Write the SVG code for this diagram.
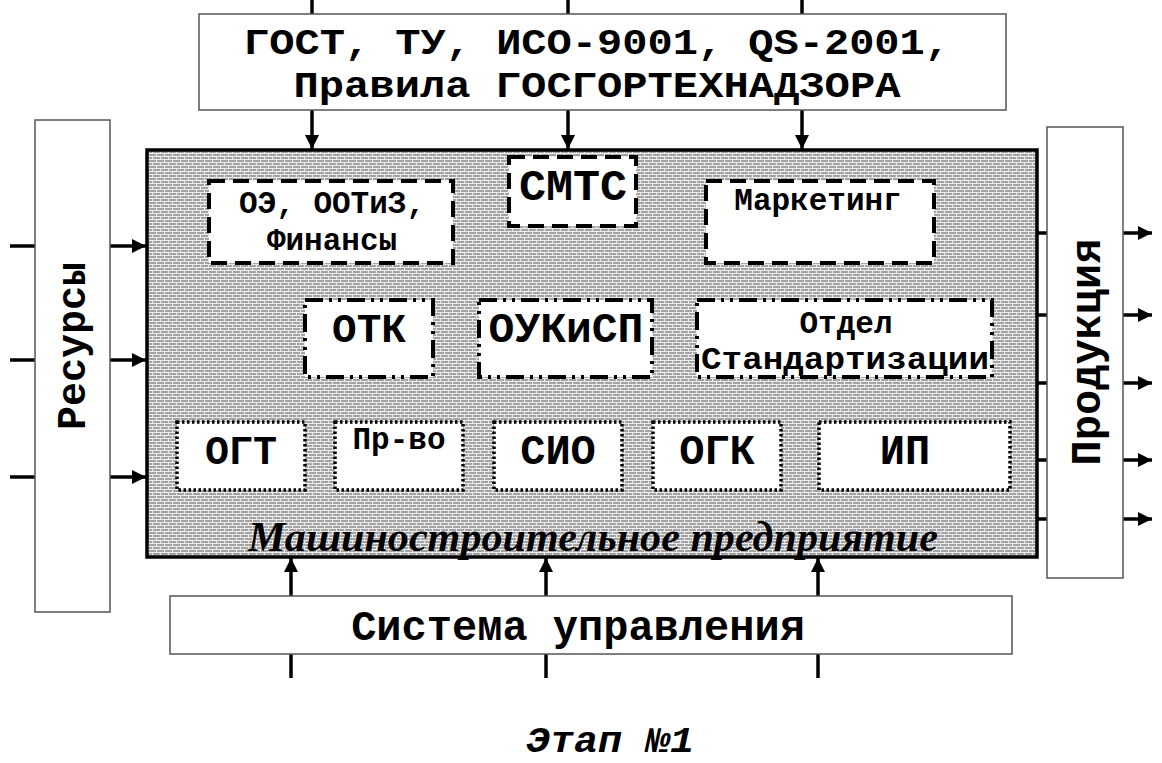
<svg xmlns="http://www.w3.org/2000/svg" width="1162" height="763" viewBox="0 0 1162 763">
<defs>
<pattern id="brick" width="8" height="6" patternUnits="userSpaceOnUse">
<rect width="8" height="6" fill="#a4a4a4"/>
<path d="M0 0.5H8M0 3.5H8M0.5 0V3M4.5 3V6" stroke="#ececec" stroke-width="1" fill="none"/>
</pattern>
<marker id="ah" viewBox="0 0 10 10" refX="10" refY="5" markerWidth="4" markerHeight="4" orient="auto" markerUnits="strokeWidth">
<path d="M0 0L10 5L0 10Z" fill="#000"/>
</marker>
</defs>
<style>
.box{fill:#fff;stroke:#555;stroke-width:1.5}
.mono{font-family:"Liberation Mono","Courier New",monospace;font-weight:bold;fill:#000}
.dash{fill:#fff;stroke:#000;stroke-width:4;stroke-dasharray:16 8}
.dashdot{fill:#fff;stroke:#000;stroke-width:4;stroke-dasharray:18 6 3 6 3 6}
.dot{fill:#fff;stroke:#000;stroke-width:3.5;stroke-dasharray:2.5 2.5}
.ln{stroke:#000;stroke-width:3.5;fill:none}
.arr{stroke:#000;stroke-width:3.5;fill:none;marker-end:url(#ah)}
</style>
<rect width="1162" height="763" fill="#fff"/>

<g id="enterprise">
<rect x="147" y="150" width="890" height="407" fill="url(#brick)" stroke="#000" stroke-width="3.5"/>
<text x="593" y="551" text-anchor="middle" font-family="Liberation Serif, serif" font-weight="bold" font-style="italic" font-size="42" textLength="690" lengthAdjust="spacingAndGlyphs" fill="#000">Машиностроительное предприятие</text>
</g>

<g id="connectors">
<line class="ln" x1="312" y1="0" x2="312" y2="14"/>
<line class="ln" x1="568" y1="0" x2="568" y2="14"/>
<line class="ln" x1="802" y1="0" x2="802" y2="14"/>
<line class="arr" x1="312" y1="110" x2="312" y2="149"/>
<line class="arr" x1="568" y1="110" x2="568" y2="149"/>
<line class="arr" x1="802" y1="110" x2="802" y2="149"/>

<line class="ln" x1="10" y1="246" x2="35" y2="246"/>
<line class="ln" x1="10" y1="360" x2="35" y2="360"/>
<line class="ln" x1="10" y1="477" x2="35" y2="477"/>
<line class="arr" x1="110" y1="246" x2="146" y2="246"/>
<line class="arr" x1="110" y1="360" x2="146" y2="360"/>
<line class="arr" x1="110" y1="477" x2="146" y2="477"/>

<line class="ln" x1="1037" y1="233" x2="1047" y2="233"/>
<line class="ln" x1="1037" y1="315" x2="1047" y2="315"/>
<line class="ln" x1="1037" y1="383" x2="1047" y2="383"/>
<line class="ln" x1="1037" y1="460" x2="1047" y2="460"/>
<line class="ln" x1="1037" y1="519" x2="1047" y2="519"/>
<line class="arr" x1="1123" y1="233" x2="1152" y2="233"/>
<line class="arr" x1="1123" y1="315" x2="1152" y2="315"/>
<line class="arr" x1="1123" y1="383" x2="1152" y2="383"/>
<line class="arr" x1="1123" y1="460" x2="1152" y2="460"/>
<line class="arr" x1="1123" y1="519" x2="1152" y2="519"/>

<line class="arr" x1="291" y1="596" x2="291" y2="558"/>
<line class="arr" x1="546" y1="596" x2="546" y2="558"/>
<line class="arr" x1="818" y1="596" x2="818" y2="558"/>
<line class="ln" x1="291" y1="654" x2="291" y2="678"/>
<line class="ln" x1="546" y1="654" x2="546" y2="678"/>
<line class="ln" x1="818" y1="654" x2="818" y2="678"/>
</g>

<g id="standards">
<rect class="box" x="199" y="14" width="807" height="96"/>
<text class="mono" x="597" y="54" text-anchor="middle" font-size="37" textLength="706" lengthAdjust="spacingAndGlyphs">ГОСТ, ТУ, ИСО-9001, QS-2001,</text>
<text class="mono" x="597" y="97" text-anchor="middle" font-size="37" textLength="607" lengthAdjust="spacingAndGlyphs">Правила ГОСГОРТЕХНАДЗОРА</text>
</g>

<g id="resources">
<rect class="box" x="35" y="120" width="75" height="492"/>
<text class="mono" transform="translate(85,346) rotate(-90)" text-anchor="middle" font-size="40">Ресурсы</text>
</g>

<g id="products">
<rect class="box" x="1047" y="127" width="76" height="451"/>
<text class="mono" transform="translate(1100,352) rotate(-90)" text-anchor="middle" font-size="42">Продукция</text>
</g>

<g id="control">
<rect class="box" x="170" y="596" width="842" height="58"/>
<text class="mono" x="578" y="640" text-anchor="middle" font-size="42">Система управления</text>
</g>

<g id="oe">
<rect class="dash" x="209" y="181" width="244" height="82"/>
<text class="mono" x="332" y="213" text-anchor="middle" font-size="31">ОЭ, ООТиЗ,</text>
<text class="mono" x="332" y="250" text-anchor="middle" font-size="31">Финансы</text>
</g>
<g id="smts">
<rect class="dash" x="509" y="157" width="127" height="69"/>
<text class="mono" x="573" y="200" text-anchor="middle" font-size="45">СМТС</text>
</g>
<g id="marketing">
<rect class="dash" x="706" y="181" width="228" height="82"/>
<text class="mono" x="818" y="210" text-anchor="middle" font-size="31">Маркетинг</text>
</g>

<g id="otk">
<rect class="dashdot" x="305" y="300" width="128" height="77"/>
<text class="mono" x="369" y="342" text-anchor="middle" font-size="41">ОТК</text>
</g>
<g id="oukisp">
<rect class="dashdot" x="479" y="300" width="173" height="77"/>
<text class="mono" x="566" y="342" text-anchor="middle" font-size="43">ОУКиСП</text>
</g>
<g id="standard-dept">
<rect class="dashdot" x="697" y="300" width="295" height="77"/>
<text class="mono" x="846" y="333" text-anchor="middle" font-size="31">Отдел</text>
<text class="mono" x="845" y="369" text-anchor="middle" font-size="31" textLength="288" lengthAdjust="spacingAndGlyphs">Стандартизации</text>
</g>

<g id="ogt">
<rect class="dot" x="177" y="422" width="128" height="68"/>
<text class="mono" x="241" y="464" text-anchor="middle" font-size="40">ОГТ</text>
</g>
<g id="prvo">
<rect class="dot" x="335" y="422" width="128" height="68"/>
<text class="mono" x="399" y="449" text-anchor="middle" font-size="31">Пр-во</text>
</g>
<g id="sio">
<rect class="dot" x="494" y="422" width="128" height="68"/>
<text class="mono" x="558" y="464" text-anchor="middle" font-size="42">СИО</text>
</g>
<g id="ogk">
<rect class="dot" x="653" y="422" width="128" height="68"/>
<text class="mono" x="717" y="464" text-anchor="middle" font-size="42">ОГК</text>
</g>
<g id="ip">
<rect class="dot" x="819" y="422" width="191" height="68"/>
<text class="mono" x="905" y="464" text-anchor="middle" font-size="42">ИП</text>
</g>

<text class="mono" x="610" y="752" text-anchor="middle" font-size="36" font-style="italic" textLength="168" lengthAdjust="spacingAndGlyphs">Этап №1</text>
</svg>
